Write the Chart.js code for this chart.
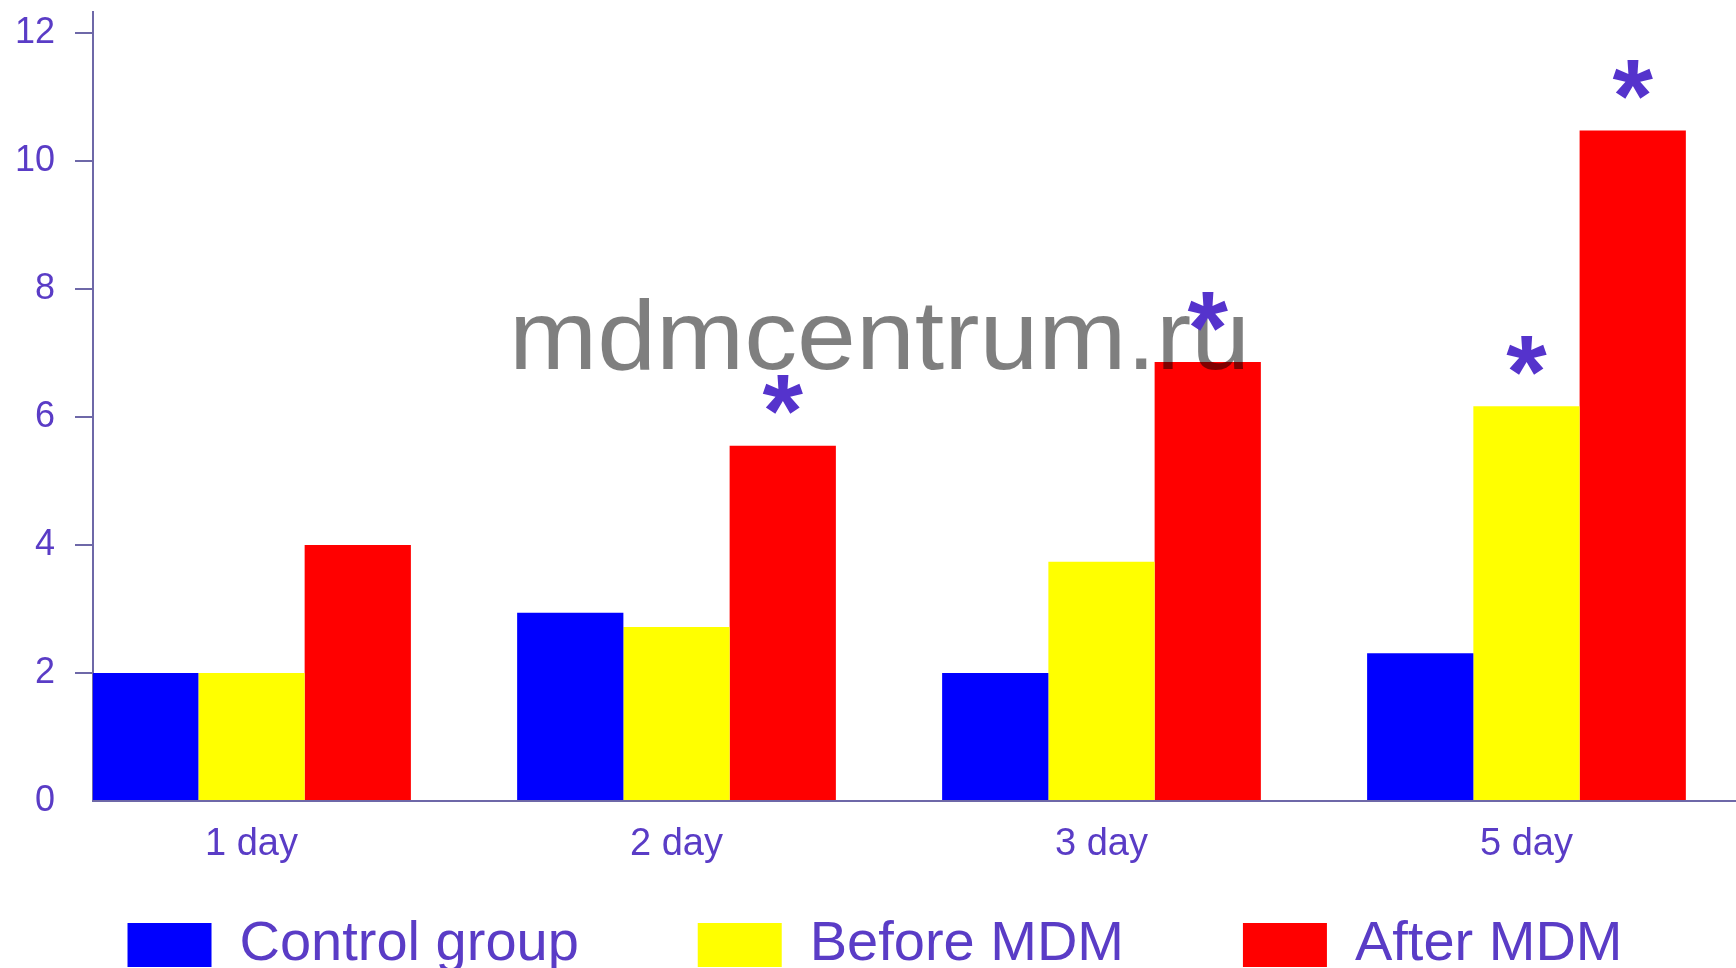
<!DOCTYPE html>
<html>
<head>
<meta charset="utf-8">
<script src="https://cdn.jsdelivr.net/npm/chart.js@4.4.1/dist/chart.umd.min.js"></script>
<style>
  html, body { margin: 0; padding: 0; background: #ffffff; }
  #wrap { width: 1736px; height: 968px; position: relative; }
</style>
</head>
<body>
<div id="wrap"><canvas id="c" width="1736" height="968"></canvas></div>
<script>
// ---- data ----
const categories = ['1 day', '2 day', '3 day', '5 day'];
const controlGroup = [2.0, 2.94, 2.0, 2.31];
const beforeMDM = [2.0, 2.72, 3.74, 6.17];
const afterMDM = [4.0, 5.55, 6.86, 10.48];
const seriesNames = ['Control group', 'Before MDM', 'After MDM'];
const yTicks = [0, 2, 4, 6, 8, 10, 12];
// significance markers (*) per series
const starsControl = [false, false, false, false];
const starsBefore = [false, false, false, true];
const starsAfter = [false, true, true, true];
const watermark = 'mdmcentrum.ru';

const TEXT = '#5a3cc6';
const AXIS = '#6e68a8';
const FONT = "'Liberation Sans', Arial, sans-serif";

function toPoints(arr) { return arr.map((v, i) => ({ x: i, y: v })); }

const legendGap = ['       ', '       ', ''];

const overlay = {
  id: 'overlay',
  afterDatasetsDraw(chart) {
    const ctx = chart.ctx;
    ctx.save();
    // watermark (slightly stretched horizontally like the source)
    ctx.font = '98px ' + FONT;
    ctx.fillStyle = 'rgba(0,0,0,0.5)';
    ctx.textAlign = 'left';
    ctx.textBaseline = 'alphabetic';
    ctx.translate(509, 369);
    ctx.scale(1.08, 1);
    ctx.fillText(watermark, 0, 0);
    ctx.restore();
    ctx.save();
    // stars
    const flags = [starsControl, starsBefore, starsAfter];
    ctx.font = 'bold 104px ' + FONT;
    ctx.fillStyle = '#5533cc';
    ctx.textAlign = 'center';
    ctx.textBaseline = 'alphabetic';
    const m = ctx.measureText('*');
    const half = (m.actualBoundingBoxAscent - m.actualBoundingBoxDescent) / 2;
    flags.forEach((f, di) => {
      const meta = chart.getDatasetMeta(di);
      f.forEach((on, i) => {
        if (!on) return;
        const el = meta.data[i];
        ctx.fillText('*', el.x, el.y - 51 + half);
      });
    });
    ctx.restore();
  }
};

new Chart(document.getElementById('c'), {
  type: 'bar',
  data: {
    datasets: [
      { label: seriesNames[0], data: toPoints(controlGroup), backgroundColor: '#0000ff', borderWidth: 0 },
      { label: seriesNames[1], data: toPoints(beforeMDM), backgroundColor: '#ffff00', borderWidth: 0 },
      { label: seriesNames[2], data: toPoints(afterMDM), backgroundColor: '#ff0000', borderWidth: 0 }
    ]
  },
  options: {
    responsive: false,
    animation: false,
    layout: { autoPadding: false, padding: { left: 14, right: 0, top: 12, bottom: 0 } },
    datasets: { bar: { categoryPercentage: 0.75, barPercentage: 1.0 } },
    scales: {
      x: {
        type: 'linear',
        min: -0.373,
        max: 3.493,
        offset: false,
        bounds: 'data',
        grid: { display: true, offset: false, drawOnChartArea: false, drawTicks: false },
        border: { display: true, color: AXIS, width: 2 },
        afterBuildTicks: (s) => { s.ticks = categories.map((c, i) => ({ value: i })); },
        ticks: {
          padding: 21,
          color: TEXT,
          font: { family: FONT, size: 38 },
          callback: (v) => (Number.isInteger(v) && categories[v] !== undefined) ? categories[v] : ''
        },
        afterFit: (s) => { s.height = 106; s.paddingLeft = 0; s.paddingRight = 0; }
      },
      y: {
        min: 0,
        max: 12.33,
        bounds: 'data',
        grid: {
          drawOnChartArea: false, drawTicks: true, tickLength: 18, lineWidth: 2,
          color: (c) => (c.tick && c.tick.value === 0) ? 'rgba(0,0,0,0)' : AXIS
        },
        border: { display: true, color: AXIS, width: 2 },
        afterBuildTicks: (s) => { s.ticks = yTicks.map(v => ({ value: v })); },
        ticks: {
          padding: 20,
          color: TEXT,
          font: { family: FONT, size: 36 }
        },
        afterFit: (s) => { s.width = 79; s.paddingTop = 0; s.paddingBottom = 0; }
      }
    },
    plugins: {
      tooltip: { enabled: false },
      legend: {
        position: 'bottom',
        align: 'center',
        maxHeight: 61,
        labels: {
          boxWidth: 84,
          boxHeight: 44,
          padding: 10,
          color: TEXT,
          font: { family: FONT, size: 56 },
          generateLabels: (chart) => {
            const items = Chart.defaults.plugins.legend.labels.generateLabels(chart);
            items.forEach((it, i) => { it.text = it.text + legendGap[i]; it.lineWidth = 0; });
            return items;
          }
        }
      }
    }
  },
  plugins: [overlay]
});
</script>
</body>
</html>
